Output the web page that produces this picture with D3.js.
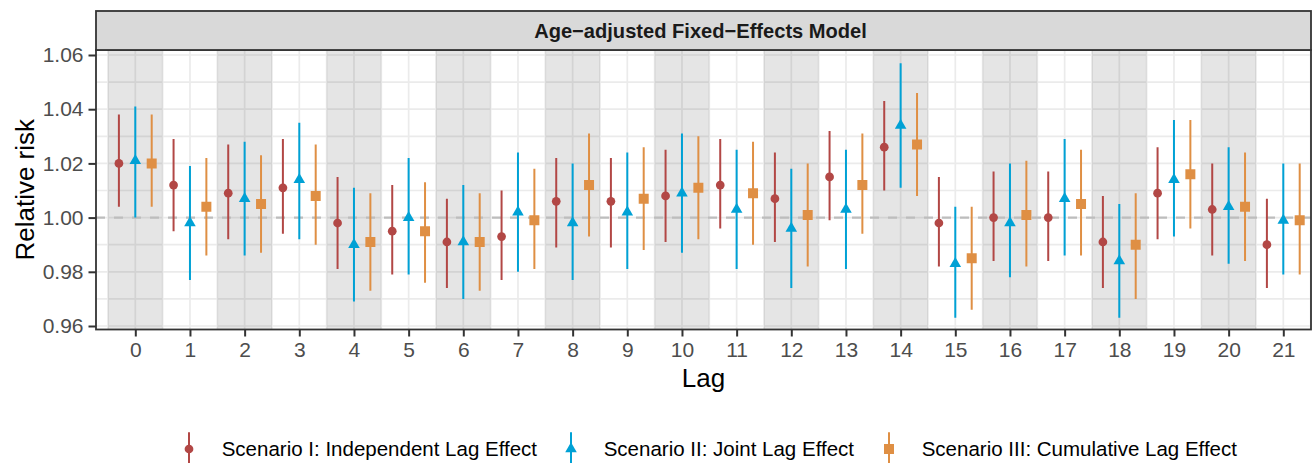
<!DOCTYPE html>
<html>
<head>
<meta charset="utf-8">
<script src="https://cdn.jsdelivr.net/npm/d3@7"></script>
<style>
  body { margin: 0; background: #fff; }
  text { font-family: "Liberation Sans", Arial, Helvetica, sans-serif; }
</style>
</head>
<body>
<div id="plot"></div>
<script>
// Data
var lags = d3.range(0, 22);

var indepEst = [1.020, 1.012, 1.009, 1.011, 0.998, 0.995, 0.991, 0.993, 1.006, 1.006, 1.008, 1.012, 1.007, 1.015, 1.026, 0.998, 1.000, 1.000, 0.991, 1.009, 1.003, 0.990];
var indepLo  = [1.004, 0.995, 0.992, 0.994, 0.981, 0.979, 0.974, 0.977, 0.989, 0.989, 0.991, 0.996, 0.991, 0.999, 1.010, 0.982, 0.984, 0.984, 0.974, 0.992, 0.986, 0.974];
var indepHi  = [1.038, 1.029, 1.027, 1.029, 1.015, 1.012, 1.007, 1.010, 1.022, 1.022, 1.025, 1.029, 1.024, 1.032, 1.043, 1.015, 1.017, 1.017, 1.008, 1.026, 1.020, 1.007];

var jointEst = [1.021, 0.998, 1.007, 1.014, 0.990, 1.000, 0.991, 1.002, 0.998, 1.002, 1.009, 1.003, 0.996, 1.003, 1.034, 0.983, 0.998, 1.007, 0.984, 1.014, 1.004, 0.999];
var jointLo  = [1.000, 0.977, 0.986, 0.992, 0.969, 0.979, 0.970, 0.980, 0.977, 0.981, 0.987, 0.981, 0.974, 0.981, 1.011, 0.963, 0.978, 0.986, 0.963, 0.993, 0.983, 0.979];
var jointHi  = [1.041, 1.019, 1.028, 1.035, 1.011, 1.022, 1.012, 1.024, 1.020, 1.024, 1.031, 1.025, 1.018, 1.025, 1.057, 1.004, 1.020, 1.029, 1.005, 1.036, 1.026, 1.020];

var cumulEst = [1.020, 1.004, 1.005, 1.008, 0.991, 0.995, 0.991, 0.999, 1.012, 1.007, 1.011, 1.009, 1.001, 1.012, 1.027, 0.985, 1.001, 1.005, 0.990, 1.016, 1.004, 0.999];
var cumulLo  = [1.004, 0.986, 0.987, 0.990, 0.973, 0.976, 0.973, 0.981, 0.993, 0.988, 0.992, 0.990, 0.982, 0.994, 1.008, 0.966, 0.982, 0.986, 0.970, 0.996, 0.984, 0.979];
var cumulHi  = [1.038, 1.022, 1.023, 1.027, 1.009, 1.013, 1.009, 1.018, 1.031, 1.026, 1.030, 1.028, 1.020, 1.031, 1.046, 1.004, 1.021, 1.025, 1.009, 1.036, 1.024, 1.020];

var scenarioNames = ["Scenario I: Independent Lag Effect", "Scenario II: Joint Lag Effect", "Scenario III: Cumulative Lag Effect"];
var scenarioColors = ["#B24745", "#00A1D5", "#DF8F44"];
var yTicks = [0.96, 0.98, 1.00, 1.02, 1.04, 1.06];
var yMinor = [0.97, 0.99, 1.01, 1.03, 1.05];
var stripTitle = "Age\u2212adjusted Fixed\u2212Effects Model";

// Build series table from the arrays
var series = [
  {name: scenarioNames[0], est: indepEst, lo: indepLo, hi: indepHi, shape: d3.symbolCircle, size: 60, offset: -0.3},
  {name: scenarioNames[1], est: jointEst, lo: jointLo, hi: jointHi, shape: d3.symbolTriangle, size: 58, offset: 0},
  {name: scenarioNames[2], est: cumulEst, lo: cumulLo, hi: cumulHi, shape: d3.symbolSquare, size: 100, offset: 0.3}
];
series.forEach((s, i) => s.color = scenarioColors[i]);

var W = 1313, H = 463;
var panel = {left: 96, right: 1311, top: 50, bottom: 329.5};
var strip = {top: 11, bottom: 50};

var svg = d3.select("#plot")
  .append("svg")
    .attr("width", W)
    .attr("height", H);

// Scales
var x = d3.scaleLinear().domain([0, 21]).range([135.3, 1283.3]);
var y = d3.scaleLinear().domain([0.96, 1.06]).range([326, 55]);

svg.append("clipPath").attr("id", "panel-clip")
  .append("rect")
    .attr("x", panel.left).attr("y", panel.top)
    .attr("width", panel.right - panel.left).attr("height", panel.bottom - panel.top);

var g = svg.append("g").attr("clip-path", "url(#panel-clip)");

// Panel background
g.append("rect")
  .attr("x", panel.left).attr("y", panel.top)
  .attr("width", panel.right - panel.left).attr("height", panel.bottom - panel.top)
  .attr("fill", "#fff");

// Grid lines
var halfLags = d3.range(-0.5, 22, 1);
g.selectAll(".hgrid")
  .data(yTicks.concat(yMinor))
  .enter().append("line")
    .attr("x1", panel.left).attr("x2", panel.right)
    .attr("y1", d => y(d)).attr("y2", d => y(d))
    .attr("stroke", "#ebebeb").attr("stroke-width", 1.7);

g.selectAll(".vgrid")
  .data(lags.concat(halfLags))
  .enter().append("line")
    .attr("x1", d => x(d)).attr("x2", d => x(d))
    .attr("y1", panel.top).attr("y2", panel.bottom)
    .attr("stroke", "#ebebeb").attr("stroke-width", 1.7);

// Shaded bands on even lags
g.selectAll(".band")
  .data(lags.filter(d => d % 2 === 0))
  .enter().append("rect")
    .attr("x", d => x(d - 0.5))
    .attr("width", d => x(d + 0.5) - x(d - 0.5))
    .attr("y", panel.top).attr("height", panel.bottom - panel.top)
    .attr("fill", "#000").attr("fill-opacity", 0.1);

// Reference line at 1
g.append("line")
  .attr("x1", panel.left).attr("x2", panel.right)
  .attr("y1", y(1)).attr("y2", y(1))
  .attr("stroke", "#bdbdbd").attr("stroke-width", 2.2)
  .attr("stroke-dasharray", "9,9");

// Error bars and points
series.forEach(function(s) {
  var pts = lags.map((l, i) => ({lag: l, est: s.est[i], lo: s.lo[i], hi: s.hi[i]}));
  g.selectAll(null)
    .data(pts)
    .enter().append("line")
      .attr("x1", d => x(d.lag + s.offset)).attr("x2", d => x(d.lag + s.offset))
      .attr("y1", d => y(d.lo)).attr("y2", d => y(d.hi))
      .attr("stroke", s.color).attr("stroke-width", 2);
  g.selectAll(null)
    .data(pts)
    .enter().append("path")
      .attr("transform", d => `translate(${x(d.lag + s.offset)},${y(d.est)})`)
      .attr("d", d3.symbol().type(s.shape).size(s.size))
      .attr("fill", s.color);
});

// Panel border
svg.append("rect")
  .attr("x", panel.left).attr("y", panel.top)
  .attr("width", panel.right - panel.left).attr("height", panel.bottom - panel.top)
  .attr("fill", "none").attr("stroke", "#333").attr("stroke-width", 1.8);

// Strip
svg.append("rect")
  .attr("x", panel.left).attr("y", strip.top)
  .attr("width", panel.right - panel.left).attr("height", strip.bottom - strip.top)
  .attr("fill", "#d9d9d9").attr("stroke", "#333").attr("stroke-width", 1.8);
svg.append("text")
  .attr("x", (panel.left + panel.right) / 2 - 3)
  .attr("y", (strip.top + strip.bottom) / 2)
  .attr("dy", "0.36em")
  .attr("text-anchor", "middle")
  .style("font-size", "20.1px").style("font-weight", "bold")
  .attr("fill", "#1a1a1a")
  .text(stripTitle);

// Y axis
var yAxis = svg.append("g")
  .attr("transform", `translate(${panel.left},0)`)
  .call(d3.axisLeft(y).tickValues(yTicks).tickFormat(d3.format(".2f")).tickSize(7.5).tickPadding(5));
yAxis.select(".domain").remove();
yAxis.selectAll(".tick line").attr("stroke", "#333").attr("stroke-width", 2);
yAxis.selectAll(".tick text").attr("fill", "#4d4d4d")
  .style("font-size", "21px").style("font-family", "Liberation Sans, Arial, sans-serif");

// X axis
var xAxis = svg.append("g")
  .attr("transform", `translate(0,${panel.bottom})`)
  .call(d3.axisBottom(x).tickValues(lags).tickFormat(d3.format("d")).tickSize(7).tickPadding(6));
xAxis.select(".domain").remove();
xAxis.selectAll(".tick line").attr("stroke", "#333").attr("stroke-width", 2);
xAxis.selectAll(".tick text").attr("fill", "#4d4d4d")
  .style("font-size", "21px").style("font-family", "Liberation Sans, Arial, sans-serif");

// Axis titles
svg.append("text")
  .attr("transform", `translate(33.5,${(panel.top + panel.bottom) / 2}) rotate(-90)`)
  .attr("text-anchor", "middle")
  .style("font-size", "26px")
  .attr("fill", "#000")
  .text("Relative risk");

svg.append("text")
  .attr("x", (panel.left + panel.right) / 2)
  .attr("y", 386.7)
  .attr("text-anchor", "middle")
  .style("font-size", "26px")
  .attr("fill", "#000")
  .text("Lag");

// Legend
var legendX = [189, 571, 889];
var legend = svg.selectAll(".legend")
  .data(series)
  .enter().append("g")
    .attr("class", "legend")
    .attr("transform", (d, i) => `translate(${legendX[i]},449)`);
legend.append("line")
  .attr("y1", -16.7).attr("y2", 17)
  .attr("stroke", d => d.color).attr("stroke-width", 2);
legend.append("path")
  .attr("d", d => d3.symbol().type(d.shape).size(d.size)())
  .attr("fill", d => d.color);
legend.append("text")
  .attr("x", 32.7)
  .attr("y", 6.7)
  .style("font-size", "20.5px")
  .attr("fill", "#000")
  .text(d => d.name);
</script>
</body>
</html>
